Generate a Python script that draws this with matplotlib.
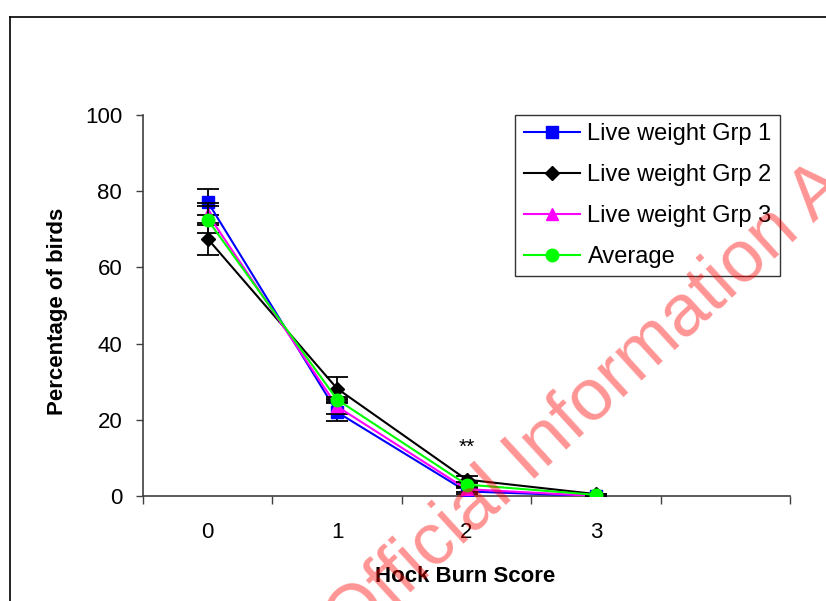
import matplotlib
matplotlib.use("Agg")
import matplotlib.pyplot as plt
from matplotlib.lines import Line2D

plt.rcParams['font.family'] = ['Liberation Sans', 'DejaVu Sans']

scores = [0, 1, 2, 3]
score_labels = ["0", "1", "2", "3"]
series_names = ["Live weight Grp 1", "Live weight Grp 2", "Live weight Grp 3", "Average"]
grp1 = [77.2, 22.0, 1.2, 0.0]
grp2 = [67.5, 28.2, 4.3, 0.5]
grp3 = [74.0, 23.5, 1.8, 0.0]
avg = [72.5, 25.3, 3.0, 0.3]
grp1_err = [3.4, 2.4, 0.8, 0.0]
grp2_err = [4.2, 3.1, 0.9, 0.0]
grp3_err = [3.0, 2.0, 0.7, 0.0]
avg_err = [3.5, 0.6, 0.6, 0.0]
y_ticks = [0, 20, 40, 60, 80, 100]

W, H = 826, 601
fig = plt.figure(figsize=(W / 100, H / 100), dpi=100)
ax = fig.add_axes([143 / W, 1 - 496 / H, (790 - 143) / W, (496 - 115) / H])

styles = [
    dict(color="#0000FF", marker="s", ms=8),
    dict(color="#000000", marker="D", ms=7),
    dict(color="#FF00FF", marker="^", ms=8.5),
    dict(color="#00FF00", marker="o", ms=9),
]
data = [grp1, grp2, grp3, avg]
errs = [grp1_err, grp2_err, grp3_err, avg_err]

for i, (vals, e, st, name) in enumerate(zip(data, errs, styles, series_names)):
    ax.errorbar(scores, vals, yerr=e, fmt="none", ecolor="black",
                elinewidth=1.3, capsize=8, capthick=1.3, zorder=2 + i)
    ax.plot(scores, vals, color=st["color"], marker=st["marker"], ms=st["ms"],
            mfc=st["color"], mec=st["color"], lw=1.5, label=name, zorder=3 + i)

ax.set_xlim(-0.5, 4.5)
ax.set_ylim(0, 100)
ax.set_yticks(y_ticks)
ax.set_yticklabels([str(v) for v in y_ticks])
ax.set_xticks([-0.5, 0.5, 1.5, 2.5, 3.5, 4.5])
ax.set_xticklabels([])
ax.set_xticks(scores, minor=True)
ax.set_xticklabels(score_labels, minor=True)
ax.tick_params(axis="x", which="major", direction="out", length=6, width=1, color="#404040")
ax.tick_params(axis="x", which="minor", length=0, pad=19, labelsize=16)
ax.tick_params(axis="y", direction="out", length=5, width=1, pad=10, labelsize=16, color="#404040")
for s in ["top", "right"]:
    ax.spines[s].set_visible(False)
for s in ["left", "bottom"]:
    ax.spines[s].set_color("#404040")
    ax.spines[s].set_linewidth(1.2)

ax.text(2, 12.9, "**", ha="center", va="center", fontsize=15)

leg = ax.legend(loc="upper right", bbox_to_anchor=((780 - 143) / (790 - 143), 1.0),
                borderaxespad=0, fontsize=17, frameon=True, fancybox=False,
                edgecolor="black", handlelength=2.4, handletextpad=0.3,
                labelspacing=0.8, borderpad=0.35)
leg.get_frame().set_linewidth(1.0)

fig.text(465 / W, 1 - 577 / H, "Hock Burn Score", ha="center", va="center",
         fontsize=16, fontweight="bold")
fig.text(57 / W, 1 - 311 / H, "Percentage of birds", ha="center", va="center",
         rotation=90, fontsize=16, fontweight="bold")

# outer chart frame
fig.add_artist(Line2D([10 / W, 1.05], [1 - 17 / H, 1 - 17 / H], transform=fig.transFigure,
                      color="black", lw=1.2))
fig.add_artist(Line2D([10 / W, 10 / W], [-0.05, 1 - 17 / H], transform=fig.transFigure,
                      color="black", lw=1.2))

# watermark
fig.text(350 / W, 1 - 648 / H, "Official Information Act", rotation=42.5,
         rotation_mode="anchor", ha="left", va="baseline", fontsize=53,
         color="red", alpha=0.42, zorder=20)

fig.savefig("out.png", dpi=100)
